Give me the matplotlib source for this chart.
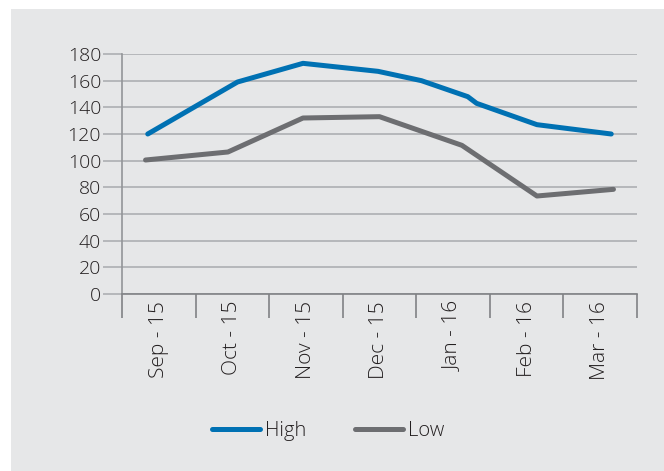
import matplotlib
matplotlib.use("Agg")
import matplotlib.pyplot as plt
from matplotlib.patches import Rectangle

# month categories on the x axis
months = ["Sep - 15", "Oct - 15", "Nov - 15", "Dec - 15", "Jan - 16", "Feb - 16", "Mar - 16"]

# line points, x in month-index units (0 = Sep-15 centre)
high_x = [-0.15, 1.07, 1.96, 2.98, 3.57, 4.2, 4.32, 5.14, 6.15]
high_vals = [120, 159, 173, 167, 160, 148, 143, 127, 120]
low_x = [-0.18, 0.94, 1.96, 3.0, 4.12, 5.14, 6.18]
low_vals = [100.5, 106.5, 132, 133, 111.5, 73.5, 78.5]

blue = "#0071b3"
grey_line = "#6d6e71"
bg = "#e6e7e8"
grid_c = "#adafb2"
text_c = "#231f20"

plt.rcParams["font.family"] = ["Open Sans", "DejaVu Sans"]

fig = plt.figure(figsize=(6.64, 4.71), dpi=100)
fig.patch.set_facecolor("white")
fig.patches.append(Rectangle((11 / 664, 0), 1, 1 - 9 / 471, transform=fig.transFigure,
                             facecolor=bg, edgecolor="none", zorder=-5))

ax = fig.add_axes([122 / 664, 1 - 294 / 471, (637 - 122) / 664, (294 - 54) / 471])
ax.set_facecolor("none")
ax.set_zorder(2)

ax.plot(high_x, high_vals, color=blue, lw=3.6, solid_capstyle="round",
        solid_joinstyle="round", label="High", zorder=3)
ax.plot(low_x, low_vals, color=grey_line, lw=3.6, solid_capstyle="round",
        solid_joinstyle="round", label="Low", zorder=3)

ax.set_xlim(-0.5, len(months) - 0.5)
ax.set_ylim(0, 180)

# horizontal gridlines
ax.set_yticks(range(0, 181, 20))
ax.yaxis.grid(True, color=grid_c, lw=1.2)
ax.set_axisbelow(True)
ax.tick_params(axis="y", length=14, width=1.2, color=grid_c, labelsize=14,
               labelcolor=text_c, pad=1)

# month labels between boundary ticks
ax.set_xticks([i - 0.5 for i in range(len(months) + 1)])
ax.set_xticklabels([])
ax.set_xticks(range(len(months)), minor=True)
ax.set_xticklabels(months, minor=True, rotation=90)
ax.tick_params(axis="x", which="major", length=17, width=1.2, color="#808285")
ax.tick_params(axis="x", which="minor", length=0, labelsize=15,
               labelcolor=text_c, pad=5)

for s in ["top", "right"]:
    ax.spines[s].set_visible(False)
ax.spines["left"].set_color("#939598")
ax.spines["left"].set_linewidth(1.2)
ax.spines["bottom"].set_color("#808285")
ax.spines["bottom"].set_linewidth(1.2)

for lab in ax.get_yticklabels() + ax.get_xticklabels(minor=True):
    lab.set_fontweight("light")

leg = fig.legend(loc="center", bbox_to_anchor=(328 / 664, 1 - 431 / 471), ncol=2,
                 frameon=False, fontsize=14.5, handlelength=2.4, handletextpad=0.25,
                 columnspacing=2.4)
for t in leg.get_texts():
    t.set_color(text_c)
    t.set_fontweight("light")

fig.savefig("out.png", dpi=100, facecolor=fig.get_facecolor())
